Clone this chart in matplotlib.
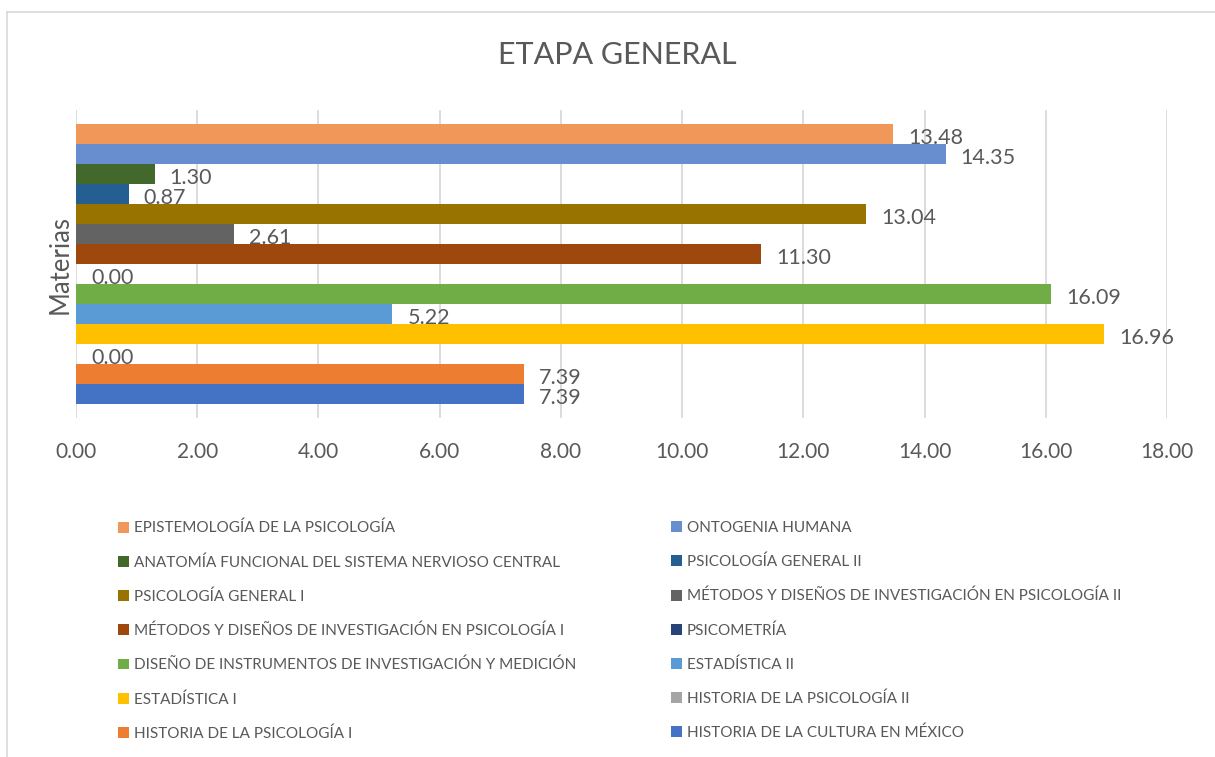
import matplotlib
matplotlib.use("Agg")
import matplotlib.pyplot as plt
from matplotlib.lines import Line2D
import numpy as np

plt.rcParams['font.family'] = ['Lato', 'DejaVu Sans']

# Series, bottom to top as drawn
materias = [
    "HISTORIA DE LA CULTURA EN MÉXICO",
    "HISTORIA DE LA PSICOLOGÍA I",
    "HISTORIA DE LA PSICOLOGÍA II",
    "ESTADÍSTICA I",
    "ESTADÍSTICA II",
    "DISEÑO DE INSTRUMENTOS DE INVESTIGACIÓN Y MEDICIÓN",
    "PSICOMETRÍA",
    "MÉTODOS Y DISEÑOS DE INVESTIGACIÓN EN PSICOLOGÍA I",
    "MÉTODOS Y DISEÑOS DE INVESTIGACIÓN EN PSICOLOGÍA II",
    "PSICOLOGÍA GENERAL I",
    "PSICOLOGÍA GENERAL II",
    "ANATOMÍA FUNCIONAL DEL SISTEMA NERVIOSO CENTRAL",
    "ONTOGENIA HUMANA",
    "EPISTEMOLOGÍA DE LA PSICOLOGÍA",
]
valores = [7.39, 7.39, 0.00, 16.96, 5.22, 16.09, 0.00, 11.30, 2.61, 13.04, 0.87, 1.30, 14.35, 13.48]
colores = ["#4472C4", "#ED7D31", "#A5A5A5", "#FFC000", "#5B9BD5", "#70AD47", "#264478",
           "#9E480E", "#636363", "#997300", "#255E91", "#43682B", "#698ED0", "#F1975A"]
x_ticks = [0, 2, 4, 6, 8, 10, 12, 14, 16, 18]

W, H = 1215, 757
fig = plt.figure(figsize=(W / 100, H / 100), dpi=100)
ax = fig.add_axes([76 / W, 1 - 418 / H, (1167 - 76) / W, (418 - 110) / H])

txt = "#595959"
pos = np.arange(len(valores))
handles = []
for p, v, c, name in zip(pos, valores, colores, materias):
    b = ax.barh(p, v, height=1.0, color=c, label=name, zorder=2)
    handles.append(b.patches[0])
    ax.annotate(f"{v:.2f}", xy=(v, p), xytext=(15, -4), textcoords="offset pixels",
                va="center", ha="left", fontsize=15.5, color=txt)

ax.set_xlim(0, 18)
ax.set_ylim(-0.5 - 0.7, len(valores) - 0.5 + 0.7)
ax.set_xticks(x_ticks)
ax.set_xticklabels([f"{t:.2f}" for t in x_ticks], fontsize=15, color=txt)
ax.tick_params(axis="x", length=0, pad=17.5)
ax.set_yticks([])
for s in ax.spines.values():
    s.set_visible(False)
ax.grid(axis="x", color="#D9D9D9", linewidth=1.3, zorder=0)
ax.set_axisbelow(True)

fig.text(60 / W, 1 - 265 / H, "Materias", rotation=90, ha="center", va="center",
         fontsize=18.5, color=txt)
fig.text(617 / W, 1 - 55 / H, "ETAPA GENERAL", ha="center", va="center",
         fontsize=22, color=txt)

# legend: row-major in reversed series order
rev = list(range(len(valores)))[::-1]
left_idx = rev[0::2]
right_idx = rev[1::2]
leg_kw = dict(frameon=False, fontsize=11, handlelength=0.72, handleheight=0.72,
              handletextpad=0.3, labelspacing=1.29, borderaxespad=0, borderpad=0,
              labelcolor=txt, loc="upper left")
leg1 = fig.legend([handles[i] for i in left_idx], [materias[i] for i in left_idx],
                  bbox_to_anchor=(118 / W, 1 - 521 / H), **leg_kw)
leg2 = fig.legend([handles[i] for i in right_idx], [materias[i] for i in right_idx],
                  bbox_to_anchor=(671 / W, 1 - 521 / H), **leg_kw)

# chart frame
fig.add_artist(Line2D([7 / W, 7 / W], [0, 1 - 12 / H], transform=fig.transFigure,
                      color="#D9D9D9", linewidth=1.2))
fig.add_artist(Line2D([7 / W, 1], [1 - 12 / H, 1 - 12 / H], transform=fig.transFigure,
                      color="#D9D9D9", linewidth=1.2))

fig.savefig("out.png", dpi=100)
